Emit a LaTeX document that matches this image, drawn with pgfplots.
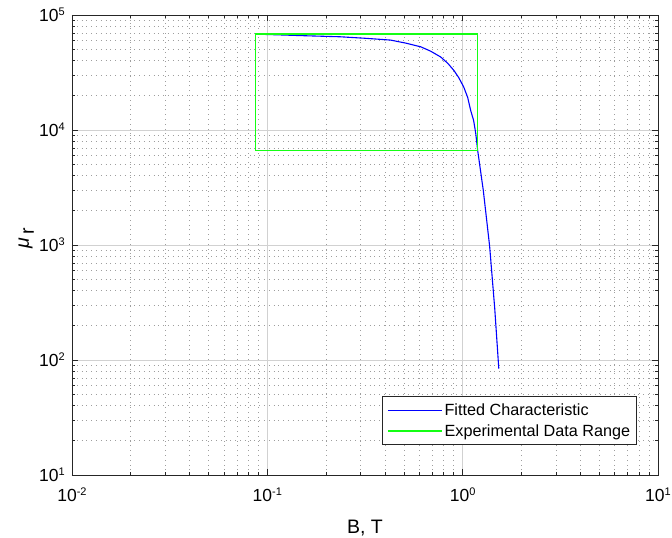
\documentclass[border=0pt]{standalone}
\usepackage{fontspec}
\setmainfont{Liberation Sans}
\usepackage{pgfplots}
\pgfplotsset{compat=1.18}
\definecolor{axgray}{RGB}{38,38,38}
\definecolor{fitblue}{RGB}{0,0,255}
\definecolor{rangegreen}{RGB}{20,255,20}
% power-of-ten tick label in the text font
\newcommand\tp[1]{10\raisebox{6bp}{\fontsize{11bp}{11bp}\selectfont #1}}

\begin{document}
\begin{tikzpicture}
\begin{loglogaxis}[
  at={(0,0)}, anchor=south west,
  scale only axis, width=586bp, height=460bp,
  xmin=0.01, xmax=10, ymin=10, ymax=1e5,
  xtick={0.01,0.1,1,10},
  xticklabels={\tp{-2},\tp{-1},\tp{0},\tp{1}},
  ytick={10,100,1000,10000,100000},
  yticklabels={\tp{1},\tp{2},\tp{3},\tp{4},\tp{5}},
  minor xtick={0.02,0.03,0.04,0.05,0.06,0.07,0.08,0.09,
               0.2,0.3,0.4,0.5,0.6,0.7,0.8,0.9,
               2,3,4,5,6,7,8,9},
  minor ytick={20,30,40,50,60,70,80,90,
               200,300,400,500,600,700,800,900,
               2000,3000,4000,5000,6000,7000,8000,9000,
               20000,30000,40000,50000,60000,70000,80000,90000},
  tick align=inside,
  major tick length=6bp, minor tick length=3.5bp,
  tick style={axgray, line width=0.6bp},
  axis line style={axgray, line width=0.8bp},
  xmajorgrids, ymajorgrids, xminorgrids, yminorgrids,
  major grid style={black!18, line width=0.7bp},
  minor grid style={black!38, line width=0.6bp, dash pattern=on 0.8bp off 4bp},
  tick label style={font=\fontsize{17.5bp}{20bp}\selectfont, text=black},
  xticklabel style={anchor=north, inner sep=0pt, yshift=-13bp},
  yticklabel style={anchor=east, inner sep=0pt, xshift=-7bp},
  xlabel={B, T},
  xlabel style={at={(axis description cs:0.5,0)}, anchor=base, yshift=-58bp,
                font=\fontsize{19.5bp}{22bp}\selectfont},
  ylabel={{\itshape μ}\hspace{3bp}\raisebox{-5bp}{r}},
  ylabel style={at={(axis description cs:-0.0734,0.515)}, anchor=base,
                font=\fontsize{19.5bp}{22bp}\selectfont},
  legend style={at={(axis description cs:0.964,0.0652)}, anchor=south east,
                draw=axgray, line width=0.6bp, fill=white,
                font=\fontsize{16.2bp}{19bp}\selectfont,
                inner xsep=4.5bp, inner ysep=5bp, row sep=3.5bp,
                nodes={inner sep=2bp}},
  legend cell align=left,
  legend image code/.code={\draw[#1] (0bp,0bp) -- (54bp,0bp);},
]
% fitted mu_r(B) characteristic
\addplot[fitblue, line width=1.1bp] coordinates {
  (0.0867,68200) (0.1167,67100) (0.1476,66200) (0.2366,64650)
  (0.3186,62700) (0.428,60500) (0.511,56960) (0.610,52900)
  (0.685,48500) (0.771,43200) (0.838,38100) (0.900,33100)
  (0.953,28700) (1.012,23700) (1.061,19200) (1.099,14800)
  (1.138,12100) (1.167,9320) (1.194,6620) (1.276,2965)
  (1.374,980) (1.459,283) (1.531,84.3)
};
\addlegendentry{Fitted Characteristic}
% extent of the measured data: bottom, right, top and left edges
\addplot[rangegreen, line width=1.4bp, line join=miter] coordinates {
  (0.0867,6620) (1.194,6620) (1.194,68200) (0.0867,68200) (0.0867,6620)
};
\addlegendentry{Experimental Data Range}
\addplot[rangegreen, line width=1.4bp, forget plot] coordinates {
  (1.194,6620) (1.194,68200)
};
\addplot[rangegreen, line width=1.4bp, forget plot] coordinates {
  (0.0867,6620) (0.0867,68200)
};
\end{loglogaxis}
\pgfresetboundingbox
\useasboundingbox (-72bp,-63bp) rectangle (600bp,475bp);
\end{tikzpicture}
\end{document}
